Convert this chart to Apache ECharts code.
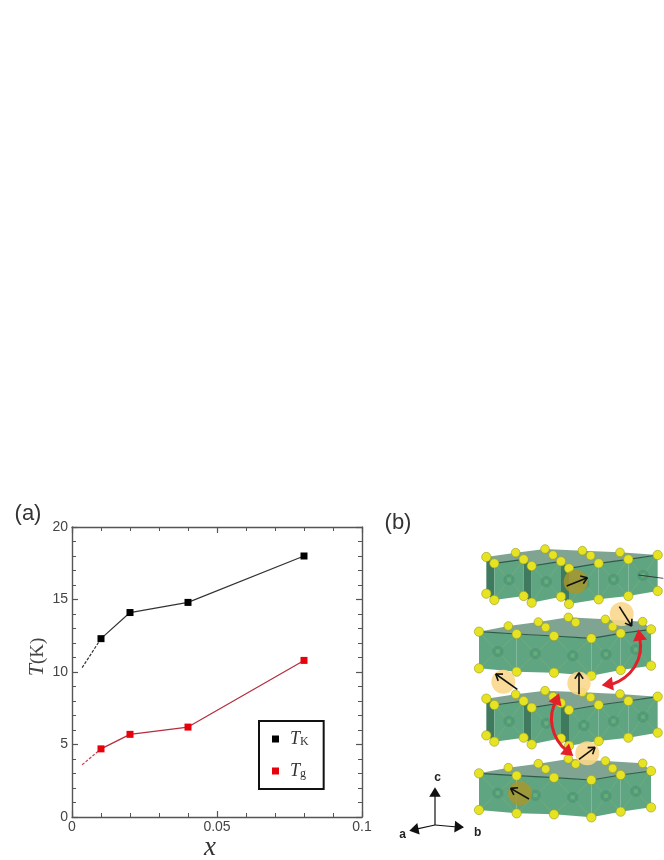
<!DOCTYPE html>
<html>
<head>
<meta charset="utf-8">
<style>
html, body { margin: 0; padding: 0; background: #fff; }
#main { width: 664px; height: 860px; }
</style>
<script src="https://cdn.jsdelivr.net/npm/echarts@6/dist/echarts.min.js"></script>
</head>
<body>
<div id="main"></div>
<script>
// chart data
const xValues = [0.01, 0.02, 0.04, 0.08];
const tkValues = [12.3, 14.1, 14.8, 18];
const tgValues = [4.7, 5.7, 6.2, 10.8];
const tkDashed = [[0.0035, 10.3], [0.01, 12.3]];
const tgDashed = [[0.0035, 3.6], [0.01, 4.7]];
const legendNames = ['TK', 'Tg'];

const GRAY = '#555';
const GREEN_FACE = '#5fa582';
const GREEN_DARK = '#3f7a5f';
const GREEN_ROOF = '#7fa592';
const GREEN_EDGE = '#2f5a48';
const YELLOW = '#e6e322';

// panel (b) is an illustration, coordinates are relative to its own box
const P_X = 380, P_Y = 500;
const at = (x, y) => [P_X + x / 3, P_Y + y / 3];
const pts = list => list.map(p => at(p[0], p[1]));

function poly(list, fill, z) {
    return { type: 'polygon', z: z, silent: true, shape: { points: pts(list) }, style: { fill: fill } };
}
function seg(a, b, color, width, z) {
    const p = at(a[0], a[1]), q = at(b[0], b[1]);
    return { type: 'line', z: z, silent: true, shape: { x1: p[0], y1: p[1], x2: q[0], y2: q[1] }, style: { stroke: color, lineWidth: width } };
}
function disc(c, r, fill, z, stroke) {
    const p = at(c[0], c[1]);
    return { type: 'circle', z: z, silent: true, shape: { cx: p[0], cy: p[1], r: r / 3 }, style: { fill: fill, stroke: stroke || null, lineWidth: stroke ? 0.6 : 0 } };
}
// arrow with an open head
function arrow(a, b, color, width, z) {
    const ang = Math.atan2(b[1] - a[1], b[0] - a[0]);
    const len = 22;
    const h1 = [b[0] - len * Math.cos(ang - 0.6), b[1] - len * Math.sin(ang - 0.6)];
    const h2 = [b[0] - len * Math.cos(ang + 0.6), b[1] - len * Math.sin(ang + 0.6)];
    return [seg(a, b, color, width, z), seg(h1, b, color, width, z), seg(h2, b, color, width, z)];
}
function head(tip, from, size, color, z) {
    const ang = Math.atan2(tip[1] - from[1], tip[0] - from[0]);
    const side = size * 0.62;
    const bx = tip[0] - size * Math.cos(ang), by = tip[1] - size * Math.sin(ang);
    return poly([tip,
        [bx + side * Math.sin(ang), by - side * Math.cos(ang)],
        [bx - side * Math.sin(ang), by + side * Math.cos(ang)]], color, z);
}
function curve(a, c1, c2, b, z) {
    const p = at(a[0], a[1]), q = at(b[0], b[1]), r = at(c1[0], c1[1]), s = at(c2[0], c2[1]);
    return {
        type: 'bezierCurve', z: z, silent: true,
        shape: { x1: p[0], y1: p[1], cpx1: r[0], cpy1: r[1], cpx2: s[0], cpy2: s[1], x2: q[0], y2: q[1] },
        style: { stroke: '#e2202a', lineWidth: 3, fill: null }
    };
}

// one layer of boxes: top/bottom outline, side faces, back spheres, roof outline
function layer(tops, bottoms, darkEdges, backs, roof, z) {
    const out = [];
    out.push(poly(roof, GREEN_ROOF, z));
    backs.forEach(b => out.push(disc(b, 13, YELLOW, z, '#9a9a20')));
    for (let i = 0; i < tops.length - 1; i++) {
        const a = tops[i], b = tops[i + 1], c = bottoms[i + 1], d = bottoms[i];
        const dark = darkEdges.indexOf(i) >= 0;
        out.push(poly([a, b, c, d], dark ? GREEN_DARK : GREEN_FACE, z + 2));
        if (!dark) {
            const cx = (a[0] + b[0] + c[0] + d[0]) / 4, cy = (a[1] + b[1] + c[1] + d[1]) / 4;
            out.push(seg(a, c, 'rgba(190,205,100,0.22)', 0.8, z + 3));
            out.push(seg(b, d, 'rgba(190,205,100,0.22)', 0.8, z + 3));
            out.push(disc([cx, cy], 17, 'rgba(60,135,100,0.35)', z + 3));
            out.push(disc([cx, cy], 7, 'rgba(110,185,130,0.6)', z + 3));
            out.push(seg(a, b, GREEN_EDGE, 1.2, z + 3));
        }
    }
    tops.concat(bottoms).forEach(p => out.push(disc(p, 14, YELLOW, z + 4, '#9a9a20')));
    return out;
}

function crystal() {
    let g = [];
    const shift = (list, dy) => list.map(p => [p[0], p[1] + dy]);

    // rows with a dark side face, top layer
    const aTop = [[319, 171], [343, 190], [431, 178], [455, 198], [543, 184], [567, 205], [656, 190], [745, 178], [833, 165]];
    const aBot = [[319, 281], [343, 300], [431, 288], [455, 308], [543, 290], [567, 312], [656, 298], [745, 288], [833, 273]];
    const aDark = [0, 2, 4];
    const aBack = [[407, 158], [495, 147], [519, 165], [607, 152], [632, 167], [720, 157]];
    const aRoof = [[319, 171], [407, 158], [495, 147], [607, 152], [720, 157], [833, 165], [745, 178], [656, 190], [567, 205], [455, 198], [343, 190]];

    // rows with flat faces
    const bTop = [[297, 395], [410, 402], [522, 408], [634, 415], [722, 400], [813, 388]];
    const bBot = [[297, 505], [410, 515], [522, 518], [634, 527], [722, 510], [813, 497]];
    const bBack = [[385, 378], [475, 366], [497, 382], [565, 352], [587, 367], [676, 358], [698, 380], [788, 365]];
    const bRoof = [[297, 395], [385, 378], [475, 366], [565, 352], [676, 358], [788, 365], [813, 388], [722, 400], [634, 415], [522, 408], [410, 402]];

    g = g.concat(layer(aTop, aBot, aDark, aBack, aRoof, 10));
    g = g.concat(layer(bTop, bBot, [], bBack, bRoof, 20));
    g = g.concat(layer(shift(aTop, 425), shift(aBot, 425), aDark, shift(aBack, 425), shift(aRoof, 425), 30));
    g = g.concat(layer(shift(bTop, 425), shift(bBot, 425), [], shift(bBack, 425), shift(bRoof, 425), 40));

    // spin sites
    g.push(disc([587, 245], 36, 'rgba(170,150,40,0.8)', 60));
    g.push(disc([420, 880], 36, 'rgba(170,150,40,0.8)', 60));
    g.push(disc([725, 342], 36, 'rgba(250,215,140,0.9)', 60));
    g.push(disc([370, 545], 36, 'rgba(250,215,140,0.9)', 60));
    g.push(disc([597, 550], 35, 'rgba(250,215,140,0.9)', 60));
    g.push(disc([622, 760], 36, 'rgba(250,215,140,0.9)', 60));

    g = g.concat(arrow([560, 258], [622, 233], '#111', 1.6, 61));
    g = g.concat(arrow([718, 320], [755, 378], '#111', 1.6, 61));
    g = g.concat(arrow([412, 568], [347, 522], '#111', 1.6, 61));
    g = g.concat(arrow([597, 583], [597, 518], '#111', 1.6, 61));
    g = g.concat(arrow([597, 778], [645, 742], '#111', 1.6, 61));
    g = g.concat(arrow([447, 897], [392, 865], '#111', 1.6, 61));
    g.push(seg([775, 225], [850, 235], '#222', 0.8, 61));

    // exchange paths
    g.push(curve([778, 410], [795, 480], [750, 535], [695, 553], 62));
    g.push(head([775, 388], [780, 420], 34, '#e2202a', 63));
    g.push(head([665, 556], [705, 550], 34, '#e2202a', 63));
    g.push(curve([530, 600], [500, 650], [515, 715], [560, 752], 62));
    g.push(head([537, 580], [525, 612], 34, '#e2202a', 63));
    g.push(head([580, 768], [548, 742], 34, '#e2202a', 63));

    // crystal axes
    g.push(seg([165, 975], [165, 885], '#111', 1.2, 70));
    g.push(seg([165, 975], [105, 988], '#111', 1.2, 70));
    g.push(seg([165, 975], [232, 981], '#111', 1.2, 70));
    g.push(head([165, 862], [165, 890], 28, '#111', 70));
    g.push(head([88, 992], [112, 987], 28, '#111', 70));
    g.push(head([252, 982], [226, 980], 28, '#111', 70));
    [['c', 173, 832], ['a', 68, 1005], ['b', 293, 997]].forEach(t => {
        const p = at(t[1], t[2]);
        g.push({
            type: 'text', z: 70, silent: true, x: p[0], y: p[1],
            style: { text: t[0], fill: '#222', font: 'bold 12px "Liberation Sans"', align: 'center', verticalAlign: 'middle' }
        });
    });
    return g;
}

function panelLabel(text, x, y) {
    return {
        type: 'text', silent: true, x: x, y: y,
        style: { text: text, fill: '#333', font: '22px "Liberation Sans"', align: 'center', verticalAlign: 'middle' }
    };
}

const chart = echarts.init(document.getElementById('main'), null, { renderer: 'canvas' });

const xBase = {
    type: 'value', min: 0, max: 0.1, interval: 0.05,
    splitLine: { show: false },
    axisLine: { onZero: false, lineStyle: { color: GRAY, width: 1.4 } },
    axisTick: { inside: true, length: 6, lineStyle: { color: GRAY, width: 1.2 } },
    minorTick: { show: true, splitNumber: 5, length: 4, lineStyle: { color: GRAY, width: 1 } },
    minorSplitLine: { show: false }
};
const yBase = {
    type: 'value', min: 0, max: 20, interval: 5,
    splitLine: { show: false },
    axisLine: { onZero: false, lineStyle: { color: GRAY, width: 1.4 } },
    axisTick: { inside: true, length: 6, lineStyle: { color: GRAY, width: 1.2 } },
    minorTick: { show: true, splitNumber: 5, length: 4, lineStyle: { color: GRAY, width: 1 } },
    minorSplitLine: { show: false }
};

chart.setOption({
    animation: false,
    backgroundColor: '#fff',
    textStyle: { fontFamily: '"Liberation Sans"' },
    grid: { left: 72, top: 527, width: 290, height: 290, containLabel: false, outerBoundsMode: 'none' },
    xAxis: [
        Object.assign({}, xBase, {
            position: 'bottom',
            axisLabel: { color: '#444', fontSize: 14, margin: 3 },
            name: 'x', nameLocation: 'middle', nameGap: 14,
            nameTextStyle: { color: '#333', fontFamily: '"Liberation Serif"', fontStyle: 'italic', fontSize: 27, padding: [0, 0, 0, -14] }
        }),
        Object.assign({}, xBase, { position: 'top', axisLabel: { show: false } })
    ],
    yAxis: [
        Object.assign({}, yBase, {
            position: 'left',
            axisLabel: { color: '#444', fontSize: 14, margin: 4 },
            name: '{t|T}{k|(K)}', nameLocation: 'middle', nameGap: 13, nameRotate: 90,
            nameTextStyle: {
                padding: [0, 0, 0, 30],
                rich: {
                    t: { color: '#444', fontFamily: '"Liberation Serif"', fontStyle: 'italic', fontSize: 22 },
                    k: { color: '#444', fontFamily: '"Liberation Serif"', fontSize: 19 }
                }
            }
        }),
        Object.assign({}, yBase, { position: 'right', axisLabel: { show: false } })
    ],
    legend: {
        data: legendNames.map(n => ({ name: n, icon: 'rect' })),
        orient: 'vertical', left: 259, top: 721, width: 65, height: 68,
        padding: [9, 15, 9, 13],
        itemWidth: 7, itemHeight: 7, itemGap: 14,
        borderColor: '#111', borderWidth: 2, backgroundColor: '#fff',
        selectedMode: false,
        formatter: n => '{t|T}{s|' + n.slice(1) + '}',
        textStyle: {
            rich: {
                t: { fontFamily: '"Liberation Serif"', fontStyle: 'italic', fontSize: 18, color: '#333', padding: [0, 0, 0, 6] },
                s: { fontFamily: '"Liberation Serif"', fontSize: 12, color: '#333', verticalAlign: 'bottom', padding: [6, 0, 0, 0] }
            }
        }
    },
    series: [
        {
            name: legendNames[0], type: 'line', symbol: 'rect', symbolSize: 7,
            data: xValues.map((x, i) => [x, tkValues[i]]),
            itemStyle: { color: '#000' }, lineStyle: { color: '#333', width: 1.2 }
        },
        {
            name: legendNames[1], type: 'line', symbol: 'rect', symbolSize: 7,
            data: xValues.map((x, i) => [x, tgValues[i]]),
            itemStyle: { color: '#e8000b' }, lineStyle: { color: '#b32d3c', width: 1.2 }
        },
        {
            name: 'TK dashed', type: 'line', showSymbol: false, data: tkDashed,
            lineStyle: { color: '#333', width: 1.2, type: [3, 1.5] }
        },
        {
            name: 'Tg dashed', type: 'line', showSymbol: false, data: tgDashed,
            lineStyle: { color: '#c8404c', width: 1.2, type: [3, 1.5] }
        }
    ],
    graphic: { elements: [panelLabel('(a)', 28, 514), panelLabel('(b)', 398, 523)].concat(crystal()) }
});
</script>
</body>
</html>
